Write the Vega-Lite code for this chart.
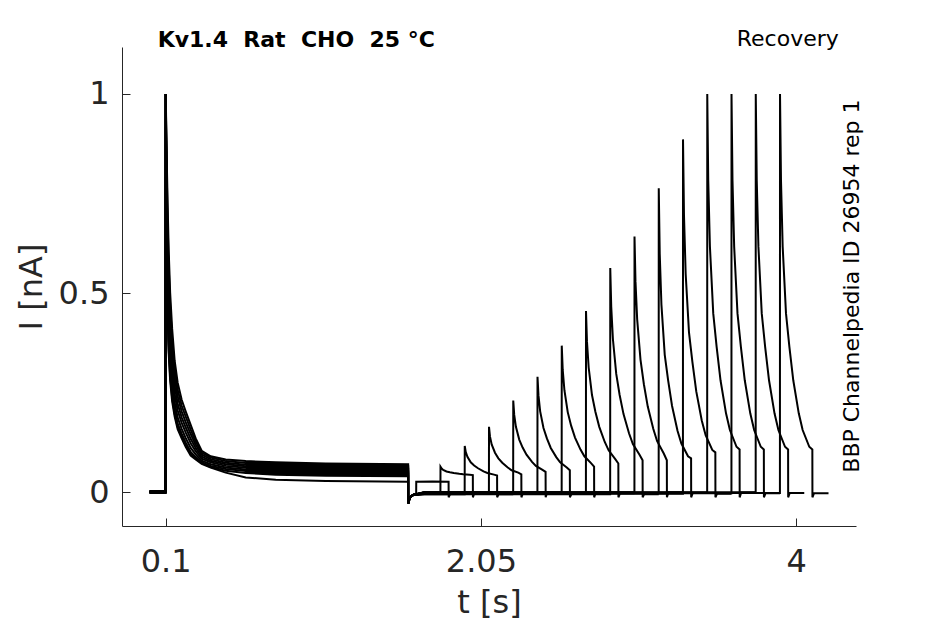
{
  "$schema": "https://vega.github.io/schema/vega-lite/v6.json",
  "width": 734,
  "height": 479,
  "autosize": "none",
  "padding": {"left": 122, "top": 47, "right": 89, "bottom": 98},
  "background": "white",
  "config": {
    "view": {"stroke": null},
    "font": "DejaVu Sans",
    "axis": {
      "grid": false,
      "domainColor": "#262626",
      "tickColor": "#262626",
      "labelColor": "#262626",
      "titleColor": "#262626",
      "labelFont": "DejaVu Sans",
      "titleFont": "DejaVu Sans",
      "labelFontSize": 32,
      "titleFontSize": 32,
      "titleFontWeight": "normal",
      "tickSize": -8,
      "domainWidth": 1,
      "tickWidth": 1
    }
  },
  "layer": [
    {
      "data": {
        "values": [
          {"s":"a","t":0,"i":0.002},{"s":"a","t":0.0995,"i":0.002},{"s":"a","t":0.1005,"i":1},{"s":"a","t":0.1062,"i":0.85},{"s":"a","t":0.1124,"i":0.72},{"s":"a","t":0.1186,"i":0.61},{"s":"a","t":0.1279,"i":0.5},{"s":"a","t":0.1402,"i":0.41},{"s":"a","t":0.1557,"i":0.33},{"s":"a","t":0.1743,"i":0.275},{"s":"a","t":0.1991,"i":0.232},{"s":"a","t":0.2238,"i":0.203},{"s":"a","t":0.2548,"i":0.169},{"s":"a","t":0.2858,"i":0.135},{"s":"a","t":0.3229,"i":0.104},{"s":"a","t":0.3786,"i":0.09},{"s":"a","t":0.4715,"i":0.082},{"s":"a","t":0.5954,"i":0.078},{"s":"a","t":0.7811,"i":0.075},{"s":"a","t":1.0907,"i":0.072},{"s":"a","t":1.6,"i":0.07},{"s":"a","t":1.6005,"i":-0.028},
          {"s":"b","t":0,"i":-0.001},{"s":"b","t":0.0995,"i":-0.001},{"s":"b","t":0.1005,"i":1},{"s":"b","t":0.1062,"i":0.813},{"s":"b","t":0.1124,"i":0.678},{"s":"b","t":0.1186,"i":0.571},{"s":"b","t":0.1279,"i":0.467},{"s":"b","t":0.1402,"i":0.383},{"s":"b","t":0.1557,"i":0.309},{"s":"b","t":0.1743,"i":0.257},{"s":"b","t":0.1991,"i":0.217},{"s":"b","t":0.2238,"i":0.19},{"s":"b","t":0.2548,"i":0.157},{"s":"b","t":0.2858,"i":0.127},{"s":"b","t":0.3229,"i":0.099},{"s":"b","t":0.3786,"i":0.087},{"s":"b","t":0.4715,"i":0.078},{"s":"b","t":0.5954,"i":0.073},{"s":"b","t":0.7811,"i":0.07},{"s":"b","t":1.0907,"i":0.067},{"s":"b","t":1.6,"i":0.066},{"s":"b","t":1.6005,"i":-0.028},
          {"s":"c","t":0,"i":0.003},{"s":"c","t":0.0995,"i":0.003},{"s":"c","t":0.1005,"i":1},{"s":"c","t":0.1062,"i":0.775},{"s":"c","t":0.1124,"i":0.636},{"s":"c","t":0.1186,"i":0.532},{"s":"c","t":0.1279,"i":0.434},{"s":"c","t":0.1402,"i":0.355},{"s":"c","t":0.1557,"i":0.288},{"s":"c","t":0.1743,"i":0.24},{"s":"c","t":0.1991,"i":0.203},{"s":"c","t":0.2238,"i":0.176},{"s":"c","t":0.2548,"i":0.146},{"s":"c","t":0.2858,"i":0.119},{"s":"c","t":0.3229,"i":0.094},{"s":"c","t":0.3786,"i":0.083},{"s":"c","t":0.4715,"i":0.074},{"s":"c","t":0.5954,"i":0.069},{"s":"c","t":0.7811,"i":0.066},{"s":"c","t":1.0907,"i":0.063},{"s":"c","t":1.6,"i":0.062},{"s":"c","t":1.6005,"i":-0.028},
          {"s":"d","t":0,"i":0},{"s":"d","t":0.0995,"i":0},{"s":"d","t":0.1005,"i":1},{"s":"d","t":0.1062,"i":0.738},{"s":"d","t":0.1124,"i":0.594},{"s":"d","t":0.1186,"i":0.493},{"s":"d","t":0.1279,"i":0.401},{"s":"d","t":0.1402,"i":0.328},{"s":"d","t":0.1557,"i":0.267},{"s":"d","t":0.1743,"i":0.222},{"s":"d","t":0.1991,"i":0.188},{"s":"d","t":0.2238,"i":0.163},{"s":"d","t":0.2548,"i":0.134},{"s":"d","t":0.2858,"i":0.111},{"s":"d","t":0.3229,"i":0.089},{"s":"d","t":0.3786,"i":0.079},{"s":"d","t":0.4715,"i":0.07},{"s":"d","t":0.5954,"i":0.065},{"s":"d","t":0.7811,"i":0.062},{"s":"d","t":1.0907,"i":0.059},{"s":"d","t":1.6,"i":0.058},{"s":"d","t":1.6005,"i":-0.028},
          {"s":"e","t":0,"i":-0.002},{"s":"e","t":0.0995,"i":-0.002},{"s":"e","t":0.1005,"i":1},{"s":"e","t":0.1062,"i":0.7},{"s":"e","t":0.1124,"i":0.552},{"s":"e","t":0.1186,"i":0.454},{"s":"e","t":0.1279,"i":0.368},{"s":"e","t":0.1402,"i":0.301},{"s":"e","t":0.1557,"i":0.246},{"s":"e","t":0.1743,"i":0.205},{"s":"e","t":0.1991,"i":0.174},{"s":"e","t":0.2238,"i":0.15},{"s":"e","t":0.2548,"i":0.123},{"s":"e","t":0.2858,"i":0.103},{"s":"e","t":0.3229,"i":0.084},{"s":"e","t":0.3786,"i":0.075},{"s":"e","t":0.4715,"i":0.066},{"s":"e","t":0.5954,"i":0.061},{"s":"e","t":0.7811,"i":0.057},{"s":"e","t":1.0907,"i":0.055},{"s":"e","t":1.6,"i":0.054},{"s":"e","t":1.6005,"i":-0.028},
          {"s":"f","t":0,"i":0.001},{"s":"f","t":0.0995,"i":0.001},{"s":"f","t":0.1005,"i":1},{"s":"f","t":0.1062,"i":0.663},{"s":"f","t":0.1124,"i":0.51},{"s":"f","t":0.1186,"i":0.415},{"s":"f","t":0.1279,"i":0.335},{"s":"f","t":0.1402,"i":0.274},{"s":"f","t":0.1557,"i":0.225},{"s":"f","t":0.1743,"i":0.187},{"s":"f","t":0.1991,"i":0.159},{"s":"f","t":0.2238,"i":0.136},{"s":"f","t":0.2548,"i":0.111},{"s":"f","t":0.2858,"i":0.095},{"s":"f","t":0.3229,"i":0.079},{"s":"f","t":0.3786,"i":0.07},{"s":"f","t":0.4715,"i":0.062},{"s":"f","t":0.5954,"i":0.057},{"s":"f","t":0.7811,"i":0.053},{"s":"f","t":1.0907,"i":0.051},{"s":"f","t":1.6,"i":0.05},{"s":"f","t":1.6005,"i":-0.028},
          {"s":"g","t":0,"i":0.002},{"s":"g","t":0.0995,"i":0.002},{"s":"g","t":0.1005,"i":1},{"s":"g","t":0.1062,"i":0.63},{"s":"g","t":0.1124,"i":0.474},{"s":"g","t":0.1186,"i":0.381},{"s":"g","t":0.1279,"i":0.306},{"s":"g","t":0.1402,"i":0.25},{"s":"g","t":0.1557,"i":0.207},{"s":"g","t":0.1743,"i":0.172},{"s":"g","t":0.1991,"i":0.147},{"s":"g","t":0.2238,"i":0.125},{"s":"g","t":0.2548,"i":0.101},{"s":"g","t":0.2858,"i":0.088},{"s":"g","t":0.3229,"i":0.075},{"s":"g","t":0.3786,"i":0.066},{"s":"g","t":0.4715,"i":0.058},{"s":"g","t":0.5954,"i":0.053},{"s":"g","t":0.7811,"i":0.049},{"s":"g","t":1.0907,"i":0.047},{"s":"g","t":1.6,"i":0.046},{"s":"g","t":1.6005,"i":-0.028},
          {"s":"h","t":0,"i":-0.001},{"s":"h","t":0.0995,"i":-0.001},{"s":"h","t":0.1005,"i":1},{"s":"h","t":0.1062,"i":0.613},{"s":"h","t":0.1124,"i":0.454},{"s":"h","t":0.1186,"i":0.363},{"s":"h","t":0.1279,"i":0.291},{"s":"h","t":0.1402,"i":0.237},{"s":"h","t":0.1557,"i":0.197},{"s":"h","t":0.1743,"i":0.164},{"s":"h","t":0.1991,"i":0.14},{"s":"h","t":0.2238,"i":0.118},{"s":"h","t":0.2548,"i":0.096},{"s":"h","t":0.2858,"i":0.085},{"s":"h","t":0.3229,"i":0.073},{"s":"h","t":0.3786,"i":0.063},{"s":"h","t":0.4715,"i":0.054},{"s":"h","t":0.5954,"i":0.048},{"s":"h","t":0.7811,"i":0.044},{"s":"h","t":1.0907,"i":0.041},{"s":"h","t":1.6,"i":0.04},{"s":"h","t":1.6005,"i":-0.028},
          {"s":"k","t":0,"i":0},{"s":"k","t":0.0995,"i":0},{"s":"k","t":0.1005,"i":1},{"s":"k","t":0.1062,"i":0.6},{"s":"k","t":0.1124,"i":0.44},{"s":"k","t":0.1186,"i":0.35},{"s":"k","t":0.1279,"i":0.28},{"s":"k","t":0.1402,"i":0.228},{"s":"k","t":0.1557,"i":0.19},{"s":"k","t":0.1743,"i":0.158},{"s":"k","t":0.1991,"i":0.135},{"s":"k","t":0.2238,"i":0.114},{"s":"k","t":0.2548,"i":0.092},{"s":"k","t":0.2858,"i":0.082},{"s":"k","t":0.3229,"i":0.071},{"s":"k","t":0.3786,"i":0.062},{"s":"k","t":0.4715,"i":0.049},{"s":"k","t":0.5954,"i":0.037},{"s":"k","t":0.7811,"i":0.031},{"s":"k","t":1.0907,"i":0.028},{"s":"k","t":1.6,"i":0.026},{"s":"k","t":1.6005,"i":-0.028},

          {"s":"p1","t":0.5954,"i":0.0755},{"s":"p1","t":0.7811,"i":0.0725},{"s":"p1","t":1.0907,"i":0.0695},{"s":"p1","t":1.6,"i":0.068},
          {"s":"p2","t":0.5954,"i":0.071},{"s":"p2","t":0.7811,"i":0.068},{"s":"p2","t":1.0907,"i":0.065},{"s":"p2","t":1.6,"i":0.064},
          {"s":"p3","t":0.5954,"i":0.067},{"s":"p3","t":0.7811,"i":0.064},{"s":"p3","t":1.0907,"i":0.061},{"s":"p3","t":1.6,"i":0.06},
          {"s":"p4","t":0.5954,"i":0.063},{"s":"p4","t":0.7811,"i":0.0595},{"s":"p4","t":1.0907,"i":0.057},{"s":"p4","t":1.6,"i":0.056},
          {"s":"p5","t":0.5954,"i":0.059},{"s":"p5","t":0.7811,"i":0.055},{"s":"p5","t":1.0907,"i":0.053},{"s":"p5","t":1.6,"i":0.052},
          {"s":"p6","t":0.5954,"i":0.055},{"s":"p6","t":0.7811,"i":0.051},{"s":"p6","t":1.0907,"i":0.049},{"s":"p6","t":1.6,"i":0.048},
          {"s":"p7","t":0.5954,"i":0.0505},{"s":"p7","t":0.7811,"i":0.0465},{"s":"p7","t":1.0907,"i":0.044},{"s":"p7","t":1.6,"i":0.043},

          {"s":"r0","t":1.6005,"i":-0.028},{"s":"r0","t":1.61,"i":-0.014},{"s":"r0","t":1.63,"i":-0.007},{"s":"r0","t":1.6495,"i":-0.004},{"s":"r0","t":1.65,"i":0.026},{"s":"r0","t":1.75,"i":0.027},{"s":"r0","t":1.85,"i":0.026},{"s":"r0","t":1.8505,"i":-0.013},{"s":"r0","t":1.86,"i":-0.004},{"s":"r0","t":1.95,"i":-0.004},

          {"s":"r1","t":1.6005,"i":-0.028},{"s":"r1","t":1.61,"i":-0.014},{"s":"r1","t":1.63,"i":-0.007},{"s":"r1","t":1.7,"i":-0.001},{"s":"r1","t":1.7995,"i":-0.001},{"s":"r1","t":1.8,"i":0.064},{"s":"r1","t":1.806,"i":0.06},{"s":"r1","t":1.8165,"i":0.056},{"s":"r1","t":1.837,"i":0.052},{"s":"r1","t":1.858,"i":0.05},{"s":"r1","t":1.882,"i":0.048},{"s":"r1","t":1.916,"i":0.046},{"s":"r1","t":1.94,"i":0.045},{"s":"r1","t":1.981,"i":0.044},{"s":"r1","t":2.0,"i":0.043},{"s":"r1","t":2.0005,"i":-0.013},{"s":"r1","t":2.01,"i":-0.001},{"s":"r1","t":2.1,"i":-0.001},

          {"s":"r2","t":1.6005,"i":-0.028},{"s":"r2","t":1.61,"i":-0.014},{"s":"r2","t":1.63,"i":-0.007},{"s":"r2","t":1.7,"i":-0.005},{"s":"r2","t":1.9495,"i":-0.005},{"s":"r2","t":1.95,"i":0.116},{"s":"r2","t":1.956,"i":0.101},{"s":"r2","t":1.9665,"i":0.089},{"s":"r2","t":1.987,"i":0.075},{"s":"r2","t":2.008,"i":0.067},{"s":"r2","t":2.032,"i":0.06},{"s":"r2","t":2.066,"i":0.052},{"s":"r2","t":2.09,"i":0.048},{"s":"r2","t":2.131,"i":0.044},{"s":"r2","t":2.15,"i":0.042},{"s":"r2","t":2.1505,"i":-0.013},{"s":"r2","t":2.16,"i":-0.005},{"s":"r2","t":2.25,"i":-0.005},

          {"s":"r3","t":1.6005,"i":-0.028},{"s":"r3","t":1.61,"i":-0.014},{"s":"r3","t":1.63,"i":-0.007},{"s":"r3","t":1.7,"i":-0.002},{"s":"r3","t":2.0995,"i":-0.002},{"s":"r3","t":2.1,"i":0.164},{"s":"r3","t":2.106,"i":0.14},{"s":"r3","t":2.1165,"i":0.12},{"s":"r3","t":2.137,"i":0.099},{"s":"r3","t":2.158,"i":0.085},{"s":"r3","t":2.182,"i":0.074},{"s":"r3","t":2.216,"i":0.062},{"s":"r3","t":2.24,"i":0.055},{"s":"r3","t":2.281,"i":0.049},{"s":"r3","t":2.3,"i":0.045},{"s":"r3","t":2.3005,"i":-0.013},{"s":"r3","t":2.31,"i":-0.002},{"s":"r3","t":2.4,"i":-0.002},

          {"s":"r4","t":1.6005,"i":-0.028},{"s":"r4","t":1.61,"i":-0.014},{"s":"r4","t":1.63,"i":-0.007},{"s":"r4","t":1.7,"i":0},{"s":"r4","t":2.2495,"i":0},{"s":"r4","t":2.25,"i":0.23},{"s":"r4","t":2.256,"i":0.194},{"s":"r4","t":2.2665,"i":0.164},{"s":"r4","t":2.287,"i":0.132},{"s":"r4","t":2.308,"i":0.112},{"s":"r4","t":2.332,"i":0.094},{"s":"r4","t":2.366,"i":0.076},{"s":"r4","t":2.39,"i":0.066},{"s":"r4","t":2.431,"i":0.056},{"s":"r4","t":2.45,"i":0.051},{"s":"r4","t":2.4505,"i":-0.013},{"s":"r4","t":2.46,"i":0},{"s":"r4","t":2.55,"i":0},

          {"s":"r5","t":1.6005,"i":-0.028},{"s":"r5","t":1.61,"i":-0.014},{"s":"r5","t":1.63,"i":-0.007},{"s":"r5","t":1.7,"i":-0.004},{"s":"r5","t":2.3995,"i":-0.004},{"s":"r5","t":2.4,"i":0.29},{"s":"r5","t":2.406,"i":0.243},{"s":"r5","t":2.4165,"i":0.203},{"s":"r5","t":2.437,"i":0.161},{"s":"r5","t":2.458,"i":0.135},{"s":"r5","t":2.482,"i":0.111},{"s":"r5","t":2.516,"i":0.088},{"s":"r5","t":2.54,"i":0.075},{"s":"r5","t":2.581,"i":0.062},{"s":"r5","t":2.6,"i":0.055},{"s":"r5","t":2.6005,"i":-0.013},{"s":"r5","t":2.61,"i":-0.004},{"s":"r5","t":2.7,"i":-0.004},

          {"s":"r6","t":1.6005,"i":-0.028},{"s":"r6","t":1.61,"i":-0.014},{"s":"r6","t":1.63,"i":-0.007},{"s":"r6","t":1.7,"i":-0.001},{"s":"r6","t":2.5495,"i":-0.001},{"s":"r6","t":2.55,"i":0.368},{"s":"r6","t":2.556,"i":0.307},{"s":"r6","t":2.5665,"i":0.256},{"s":"r6","t":2.587,"i":0.201},{"s":"r6","t":2.608,"i":0.167},{"s":"r6","t":2.632,"i":0.137},{"s":"r6","t":2.666,"i":0.107},{"s":"r6","t":2.69,"i":0.09},{"s":"r6","t":2.731,"i":0.073},{"s":"r6","t":2.75,"i":0.064},{"s":"r6","t":2.7505,"i":-0.013},{"s":"r6","t":2.76,"i":-0.001},{"s":"r6","t":2.85,"i":-0.001},

          {"s":"r7","t":1.6005,"i":-0.028},{"s":"r7","t":1.61,"i":-0.014},{"s":"r7","t":1.63,"i":-0.007},{"s":"r7","t":1.7,"i":-0.003},{"s":"r7","t":2.6995,"i":-0.003},{"s":"r7","t":2.7,"i":0.455},{"s":"r7","t":2.706,"i":0.378},{"s":"r7","t":2.7165,"i":0.313},{"s":"r7","t":2.737,"i":0.244},{"s":"r7","t":2.758,"i":0.202},{"s":"r7","t":2.782,"i":0.164},{"s":"r7","t":2.816,"i":0.126},{"s":"r7","t":2.84,"i":0.105},{"s":"r7","t":2.881,"i":0.083},{"s":"r7","t":2.9,"i":0.072},{"s":"r7","t":2.9005,"i":-0.013},{"s":"r7","t":2.91,"i":-0.003},{"s":"r7","t":3.0,"i":-0.003},

          {"s":"r8","t":1.6005,"i":-0.028},{"s":"r8","t":1.61,"i":-0.014},{"s":"r8","t":1.63,"i":-0.007},{"s":"r8","t":1.7,"i":-0.005},{"s":"r8","t":2.8495,"i":-0.005},{"s":"r8","t":2.85,"i":0.563},{"s":"r8","t":2.856,"i":0.466},{"s":"r8","t":2.8665,"i":0.384},{"s":"r8","t":2.887,"i":0.297},{"s":"r8","t":2.908,"i":0.244},{"s":"r8","t":2.932,"i":0.196},{"s":"r8","t":2.966,"i":0.148},{"s":"r8","t":2.99,"i":0.121},{"s":"r8","t":3.031,"i":0.094},{"s":"r8","t":3.05,"i":0.08},{"s":"r8","t":3.0505,"i":-0.013},{"s":"r8","t":3.06,"i":-0.005},{"s":"r8","t":3.15,"i":-0.005},

          {"s":"r9","t":1.6005,"i":-0.028},{"s":"r9","t":1.61,"i":-0.014},{"s":"r9","t":1.63,"i":-0.007},{"s":"r9","t":1.7,"i":0},{"s":"r9","t":2.9995,"i":0},{"s":"r9","t":3.0,"i":0.642},{"s":"r9","t":3.006,"i":0.53},{"s":"r9","t":3.0165,"i":0.434},{"s":"r9","t":3.037,"i":0.333},{"s":"r9","t":3.058,"i":0.271},{"s":"r9","t":3.082,"i":0.215},{"s":"r9","t":3.116,"i":0.159},{"s":"r9","t":3.14,"i":0.128},{"s":"r9","t":3.181,"i":0.097},{"s":"r9","t":3.2,"i":0.08},{"s":"r9","t":3.2005,"i":-0.013},{"s":"r9","t":3.21,"i":0},{"s":"r9","t":3.3,"i":0},

          {"s":"r10","t":1.6005,"i":-0.028},{"s":"r10","t":1.61,"i":-0.014},{"s":"r10","t":1.63,"i":-0.007},{"s":"r10","t":1.7,"i":-0.002},{"s":"r10","t":3.1495,"i":-0.002},{"s":"r10","t":3.15,"i":0.763},{"s":"r10","t":3.156,"i":0.599},{"s":"r10","t":3.1665,"i":0.471},{"s":"r10","t":3.187,"i":0.345},{"s":"r10","t":3.208,"i":0.281},{"s":"r10","t":3.232,"i":0.217},{"s":"r10","t":3.266,"i":0.154},{"s":"r10","t":3.29,"i":0.122},{"s":"r10","t":3.331,"i":0.09},{"s":"r10","t":3.35,"i":0.085},{"s":"r10","t":3.3505,"i":-0.013},{"s":"r10","t":3.36,"i":-0.002},{"s":"r10","t":3.45,"i":-0.002},

          {"s":"r11","t":1.6005,"i":-0.028},{"s":"r11","t":1.61,"i":-0.014},{"s":"r11","t":1.63,"i":-0.007},{"s":"r11","t":1.7,"i":-0.004},{"s":"r11","t":3.2995,"i":-0.004},{"s":"r11","t":3.3,"i":0.886},{"s":"r11","t":3.306,"i":0.696},{"s":"r11","t":3.3165,"i":0.548},{"s":"r11","t":3.337,"i":0.401},{"s":"r11","t":3.358,"i":0.327},{"s":"r11","t":3.382,"i":0.253},{"s":"r11","t":3.416,"i":0.18},{"s":"r11","t":3.44,"i":0.143},{"s":"r11","t":3.481,"i":0.106},{"s":"r11","t":3.5,"i":0.1},{"s":"r11","t":3.5005,"i":-0.013},{"s":"r11","t":3.51,"i":-0.004},{"s":"r11","t":3.6,"i":-0.004},

          {"s":"r12","t":1.6005,"i":-0.028},{"s":"r12","t":1.61,"i":-0.014},{"s":"r12","t":1.63,"i":-0.007},{"s":"r12","t":1.7,"i":-0.001},{"s":"r12","t":3.4495,"i":-0.001},{"s":"r12","t":3.45,"i":1},{"s":"r12","t":3.456,"i":0.784},{"s":"r12","t":3.4665,"i":0.616},{"s":"r12","t":3.487,"i":0.449},{"s":"r12","t":3.508,"i":0.365},{"s":"r12","t":3.532,"i":0.281},{"s":"r12","t":3.566,"i":0.198},{"s":"r12","t":3.59,"i":0.156},{"s":"r12","t":3.631,"i":0.114},{"s":"r12","t":3.65,"i":0.107},{"s":"r12","t":3.6505,"i":-0.013},{"s":"r12","t":3.66,"i":-0.001},{"s":"r12","t":3.75,"i":-0.001},

          {"s":"r13","t":1.6005,"i":-0.028},{"s":"r13","t":1.61,"i":-0.014},{"s":"r13","t":1.63,"i":-0.007},{"s":"r13","t":1.7,"i":-0.003},{"s":"r13","t":3.5995,"i":-0.003},{"s":"r13","t":3.6,"i":1},{"s":"r13","t":3.606,"i":0.784},{"s":"r13","t":3.6165,"i":0.616},{"s":"r13","t":3.637,"i":0.449},{"s":"r13","t":3.658,"i":0.365},{"s":"r13","t":3.682,"i":0.281},{"s":"r13","t":3.716,"i":0.198},{"s":"r13","t":3.74,"i":0.156},{"s":"r13","t":3.781,"i":0.114},{"s":"r13","t":3.8,"i":0.107},{"s":"r13","t":3.8005,"i":-0.013},{"s":"r13","t":3.81,"i":-0.003},{"s":"r13","t":3.9,"i":-0.003},

          {"s":"r14","t":1.6005,"i":-0.028},{"s":"r14","t":1.61,"i":-0.014},{"s":"r14","t":1.63,"i":-0.007},{"s":"r14","t":1.7,"i":0},{"s":"r14","t":3.7495,"i":0},{"s":"r14","t":3.75,"i":1},{"s":"r14","t":3.756,"i":0.784},{"s":"r14","t":3.7665,"i":0.616},{"s":"r14","t":3.787,"i":0.449},{"s":"r14","t":3.808,"i":0.365},{"s":"r14","t":3.832,"i":0.281},{"s":"r14","t":3.866,"i":0.198},{"s":"r14","t":3.89,"i":0.156},{"s":"r14","t":3.931,"i":0.114},{"s":"r14","t":3.95,"i":0.107},{"s":"r14","t":3.9505,"i":-0.013},{"s":"r14","t":3.96,"i":-0.002},{"s":"r14","t":4.05,"i":-0.002},

          {"s":"r15","t":1.6005,"i":-0.028},{"s":"r15","t":1.61,"i":-0.014},{"s":"r15","t":1.63,"i":-0.007},{"s":"r15","t":1.7,"i":-0.002},{"s":"r15","t":3.8995,"i":-0.002},{"s":"r15","t":3.9,"i":1},{"s":"r15","t":3.906,"i":0.784},{"s":"r15","t":3.9165,"i":0.616},{"s":"r15","t":3.937,"i":0.449},{"s":"r15","t":3.958,"i":0.365},{"s":"r15","t":3.982,"i":0.281},{"s":"r15","t":4.016,"i":0.198},{"s":"r15","t":4.04,"i":0.156},{"s":"r15","t":4.081,"i":0.114},{"s":"r15","t":4.1,"i":0.107},{"s":"r15","t":4.1005,"i":-0.013},{"s":"r15","t":4.11,"i":-0.003},{"s":"r15","t":4.2,"i":-0.003}
        ]
      },
      "mark": {"type": "line", "color": "black", "strokeWidth": 2, "clip": false},
      "encoding": {
        "x": {
          "field": "t",
          "type": "quantitative",
          "scale": {"domain": [-0.17, 4.37], "nice": false, "zero": false},
          "axis": {"values": [0.1, 2.05, 4], "format": ".3~g", "title": "t [s]", "labelPadding": 28, "titlePadding": 10}
        },
        "y": {
          "field": "i",
          "type": "quantitative",
          "scale": {"domain": [-0.085, 1.118], "nice": false, "zero": false},
          "axis": {"values": [0, 0.5, 1], "format": ".2~g", "title": "I [nA]", "labelPadding": 21, "titlePadding": 10}
        },
        "detail": {"field": "s", "type": "nominal"}
      }
    },
    {
      "data": {"values": [{}]},
      "mark": {"type": "text", "font": "DejaVu Sans", "fontWeight": "bold", "fontSize": 22, "align": "left", "baseline": "alphabetic", "color": "black"},
      "encoding": {
        "x": {"datum": 0.0505, "type": "quantitative"},
        "y": {"datum": 1.119, "type": "quantitative"},
        "text": {"value": "Kv1.4\u00a0\u00a0Rat\u00a0\u00a0CHO\u00a0\u00a025 °C"}
      }
    },
    {
      "data": {"values": [{}]},
      "mark": {"type": "text", "font": "DejaVu Sans", "fontSize": 22, "align": "center", "baseline": "alphabetic", "color": "black"},
      "encoding": {
        "x": {"datum": 3.948, "type": "quantitative"},
        "y": {"datum": 1.12, "type": "quantitative"},
        "text": {"value": "Recovery"}
      }
    },
    {
      "data": {"values": [{}]},
      "mark": {"type": "text", "font": "DejaVu Sans", "fontSize": 22, "align": "center", "baseline": "alphabetic", "angle": 270, "color": "black"},
      "encoding": {
        "x": {"datum": 4.387, "type": "quantitative"},
        "y": {"datum": 0.5176, "type": "quantitative"},
        "text": {"value": "BBP Channelpedia ID 26954 rep 1"}
      }
    }
  ]
}
